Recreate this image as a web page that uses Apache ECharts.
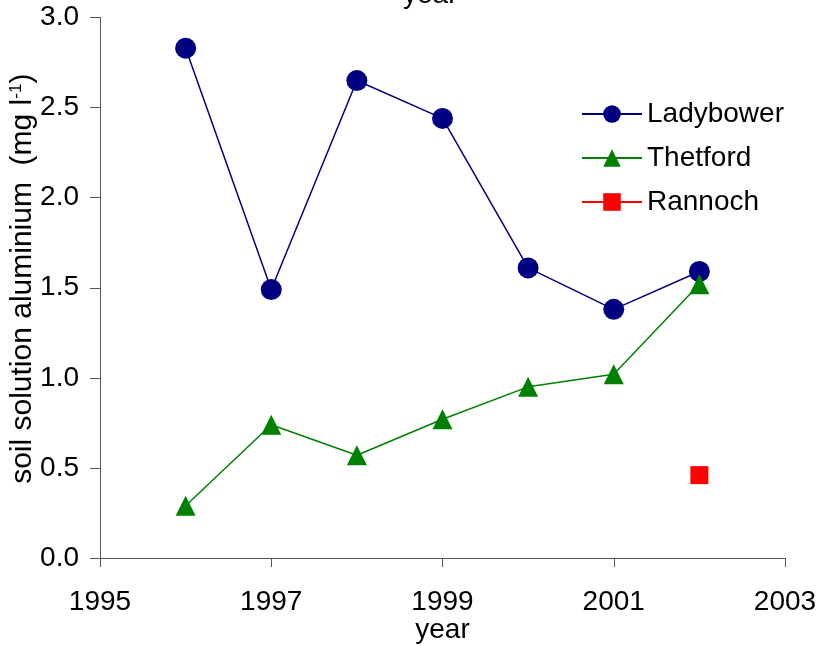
<!DOCTYPE html>
<html><head><meta charset="utf-8">
<script src="https://cdn.jsdelivr.net/npm/echarts@6/dist/echarts.min.js"></script>
<style>html,body{margin:0;padding:0;background:#fff}#c{width:823px;height:646px}</style>
</head><body><div id="c"></div>
<script>
const years = [1996, 1997, 1998, 1999, 2000, 2001, 2002];
const ladybower = [2.83, 1.49, 2.65, 2.44, 1.61, 1.38, 1.59];
const thetford = [0.29, 0.74, 0.57, 0.77, 0.95, 1.02, 1.52];
const rannochYears = [2002];
const rannoch = [0.46];
const seriesNames = ['Ladybower', 'Thetford', 'Rannoch'];

const FONT = '"Liberation Sans", Arial, sans-serif';
const chart = echarts.init(document.getElementById('c'));
const pair = (xs, ys) => xs.map((x, i) => [x, ys[i]]);
chart.setOption({
  animation: false,
  backgroundColor: '#fff',
  textStyle: { fontFamily: FONT },
  grid: { left: 100, right: 38, top: 17.5, bottom: 88, containLabel: false, outerBoundsMode: 'none' },
  graphic: [{
    type: 'text', left: 403, top: -19,
    style: { text: 'year', fontSize: 28, fontFamily: FONT, fill: '#000' }
  }],
  xAxis: {
    type: 'value', min: 1995, max: 2003, interval: 2,
    name: 'year', nameLocation: 'middle', nameGap: 58, nameMoveOverlap: false,
    nameTextStyle: { fontSize: 28, color: '#000', fontFamily: FONT },
    axisLine: { show: true, lineStyle: { color: '#555', width: 1 } },
    axisTick: { show: true, length: 9, lineStyle: { color: '#555' } },
    axisLabel: { fontSize: 28, color: '#000', margin: 30, fontFamily: FONT,
      formatter: v => String(v) },
    splitLine: { show: false }
  },
  yAxis: {
    type: 'value', min: 0, max: 3, interval: 0.5,
    name: '{n|soil solution aluminium  (mg l}{s|-1}{n|)}',
    nameLocation: 'middle', nameGap: 62, nameRotate: 90, nameMoveOverlap: false,
    nameTextStyle: {
      color: '#000', fontFamily: FONT, padding: [0, 0, 0, 18],
      rich: {
        n: { fontSize: 30, fontFamily: FONT, color: '#000' },
        s: { fontSize: 17, fontFamily: FONT, color: '#000', verticalAlign: 'top', padding: [0, 0, 12, 0] }
      }
    },
    axisLine: { show: true, lineStyle: { color: '#555', width: 1 } },
    axisTick: { show: true, length: 10, lineStyle: { color: '#555' } },
    axisLabel: { fontSize: 28, color: '#000', margin: 21, fontFamily: FONT,
      formatter: v => v.toFixed(1) },
    splitLine: { show: false }
  },
  legend: {
    orient: 'vertical', left: 581, top: 100, padding: 0,
    itemWidth: 60, itemHeight: 22, itemGap: 16,
    textStyle: { fontSize: 28, color: '#000', fontFamily: FONT },
    data: seriesNames
  },
  series: [
    { name: seriesNames[0], type: 'line', data: pair(years, ladybower),
      symbol: 'circle', symbolSize: 21,
      lineStyle: { color: '#000080', width: 1.5 }, itemStyle: { color: '#000080' } },
    { name: seriesNames[1], type: 'line', data: pair(years, thetford),
      symbol: 'triangle', symbolSize: 20,
      lineStyle: { color: '#008000', width: 1.5 }, itemStyle: { color: '#008000' } },
    { name: seriesNames[2], type: 'line', data: pair(rannochYears, rannoch),
      symbol: 'rect', symbolSize: 18,
      lineStyle: { color: '#ff0000', width: 1.5 }, itemStyle: { color: '#ff0000' } }
  ]
});
</script></body></html>
